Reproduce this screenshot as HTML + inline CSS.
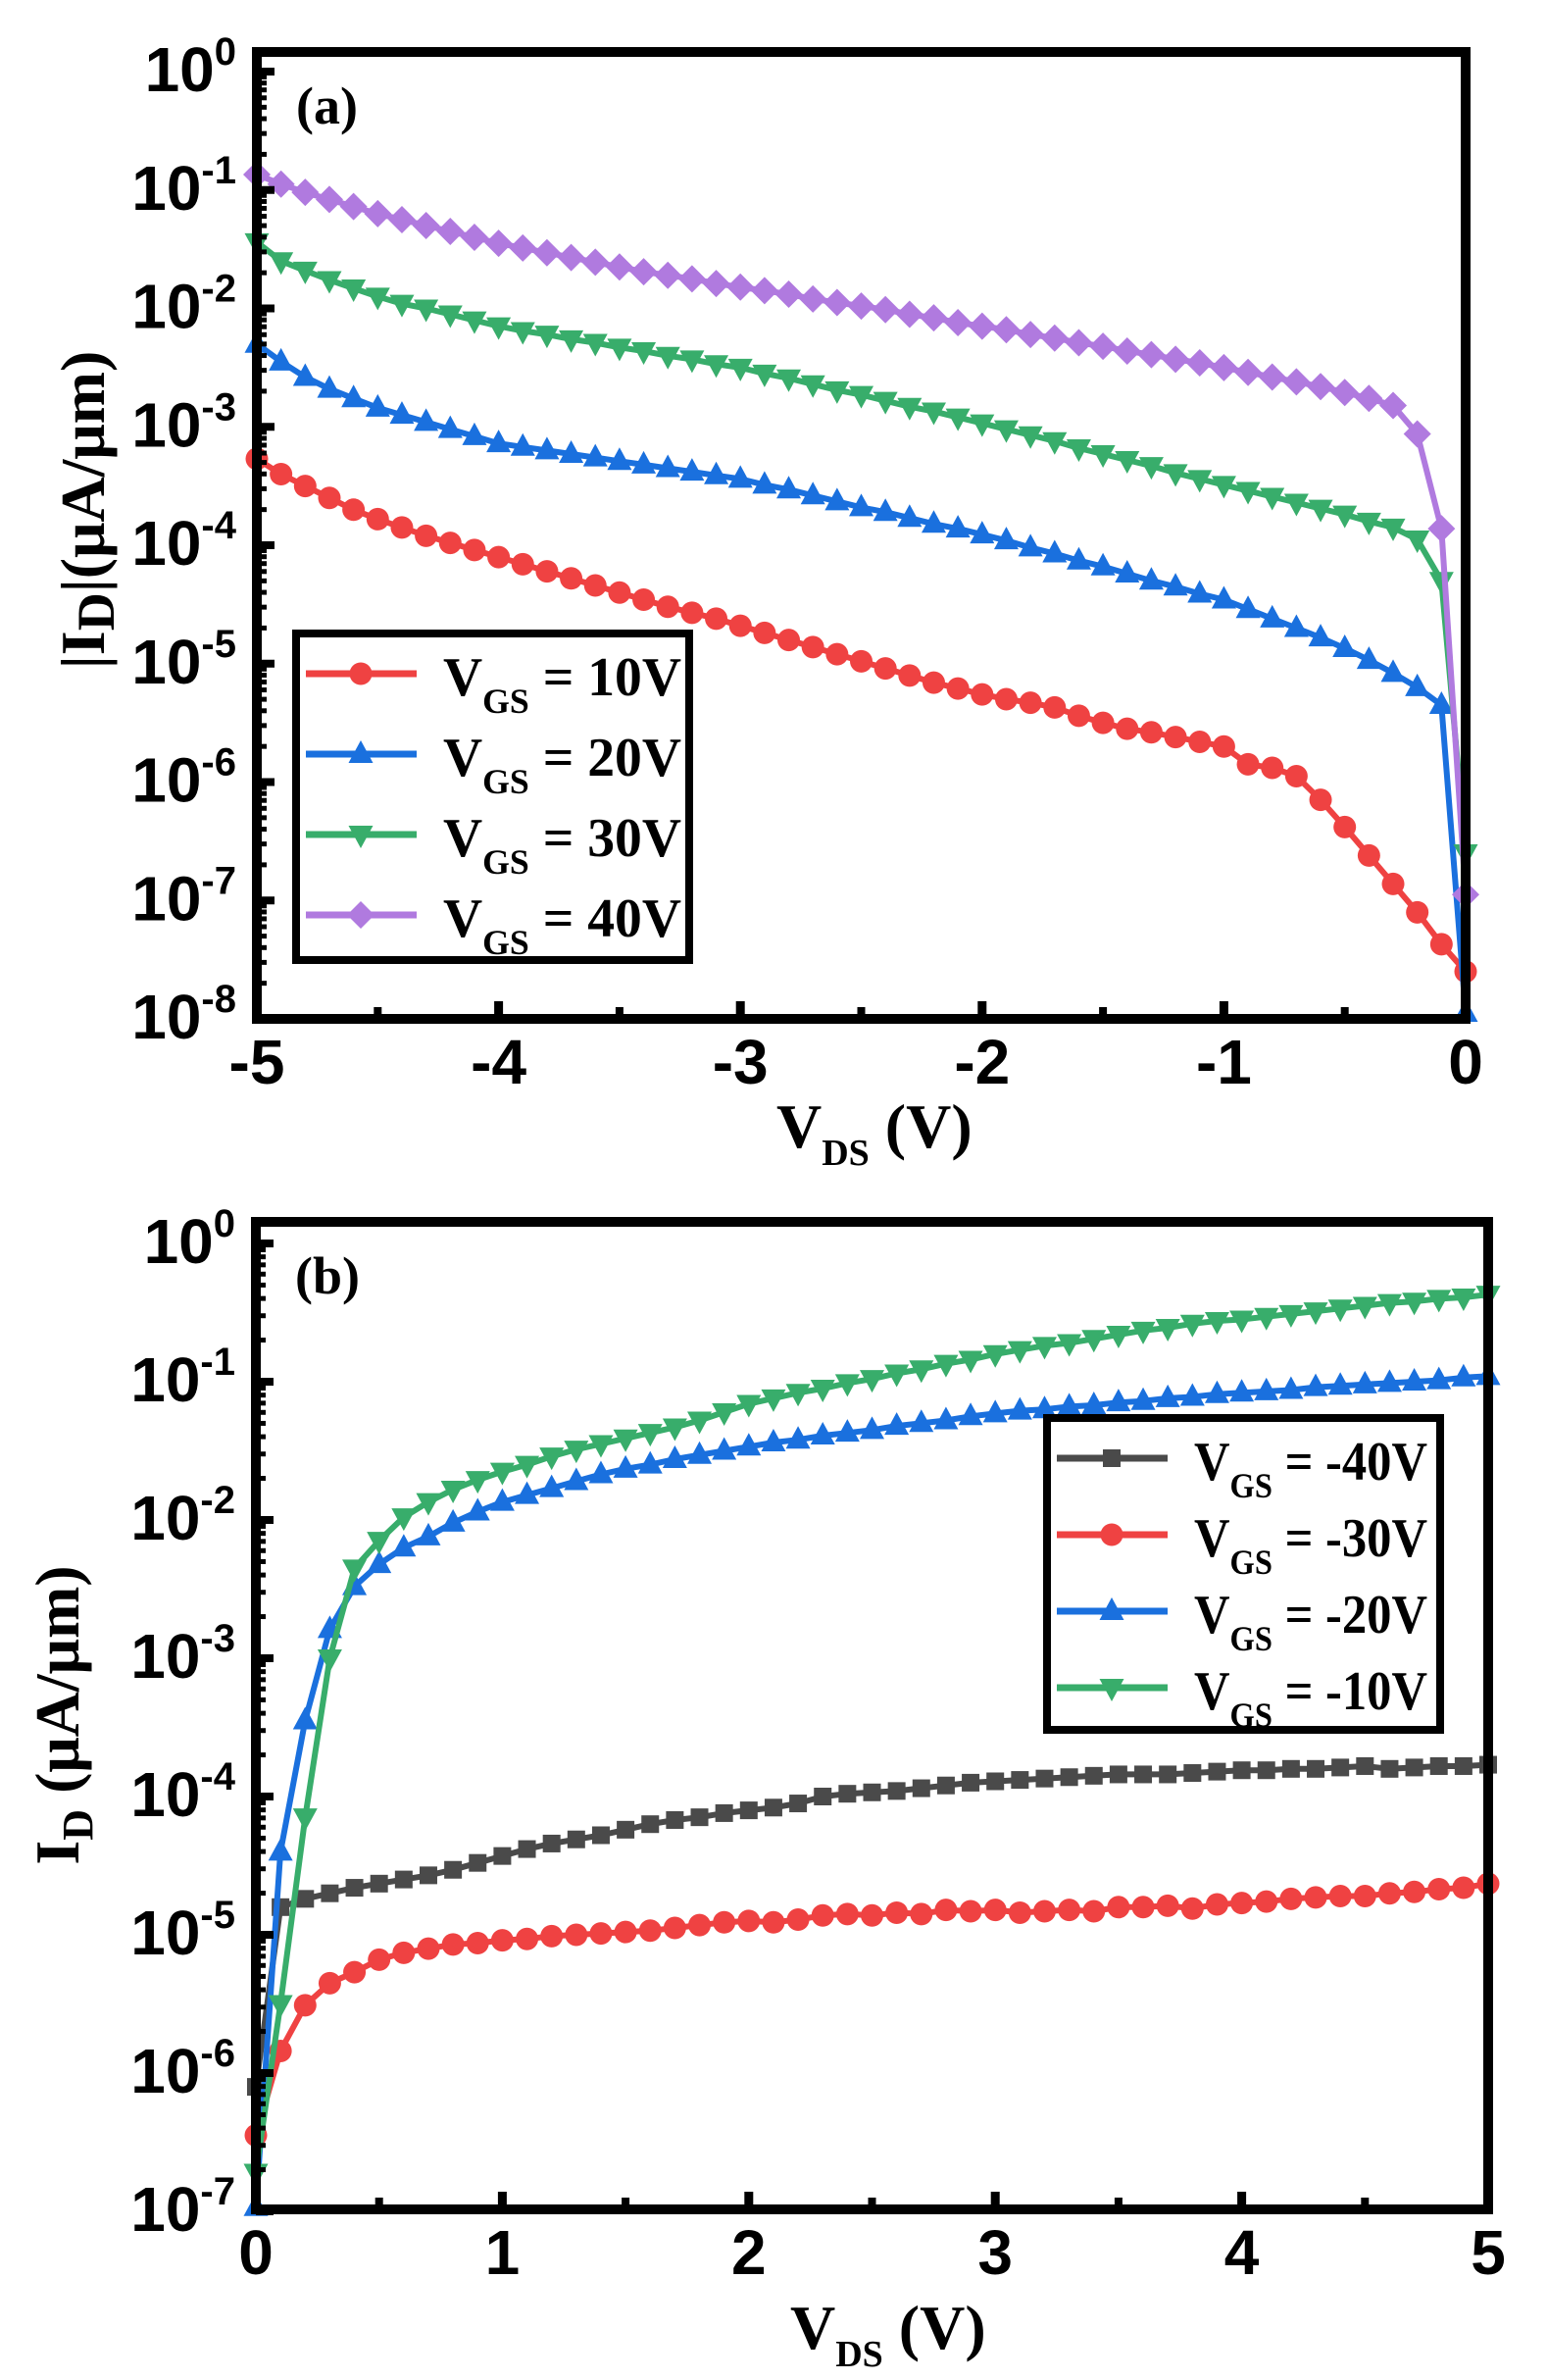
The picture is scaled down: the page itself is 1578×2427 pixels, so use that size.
<!DOCTYPE html>
<html><head><meta charset="utf-8"><style>
html,body{margin:0;padding:0;background:#fff;}
svg{display:block;}
.tick{font-family:"Liberation Sans",sans-serif;font-weight:bold;font-size:64px;fill:#000;}
.ttl{font-family:"Liberation Serif",serif;font-weight:bold;fill:#000;}
</style></head><body>
<svg id="fig" width="1578" height="2427" viewBox="0 0 1578 2427" xmlns="http://www.w3.org/2000/svg">
<rect width="1578" height="2427" fill="#fff"/>
<g id="panelA"></g>
<g id="panelB"></g>
</svg>
<script>
// ---- Panel (a) data: V_DS and log10(|I_D|) ----
const xA = [-5,-4.9,-4.8,-4.7,-4.6,-4.5,-4.4,-4.3,-4.2,-4.1,-4,-3.9,-3.8,-3.7,-3.6,-3.5,-3.4,-3.3,-3.2,-3.1,-3,-2.9,-2.8,-2.7,-2.6,-2.5,-2.4,-2.3,-2.2,-2.1,-2,-1.9,-1.8,-1.7,-1.6,-1.5,-1.4,-1.3,-1.2,-1.1,-1,-0.9,-0.8,-0.7,-0.6,-0.5,-0.4,-0.3,-0.2,-0.1,0];
const logA10 = [-3.27,-3.4,-3.5,-3.6,-3.7,-3.78,-3.85,-3.92,-3.98,-4.04,-4.1,-4.16,-4.22,-4.28,-4.34,-4.4,-4.46,-4.52,-4.57,-4.62,-4.68,-4.74,-4.8,-4.86,-4.92,-4.98,-5.04,-5.1,-5.16,-5.21,-5.26,-5.3,-5.33,-5.37,-5.44,-5.5,-5.55,-5.58,-5.62,-5.66,-5.7,-5.85,-5.88,-5.95,-6.15,-6.38,-6.62,-6.86,-7.1,-7.37,-7.6];
const logA20 = [-2.3,-2.45,-2.58,-2.68,-2.76,-2.84,-2.9,-2.96,-3.02,-3.08,-3.14,-3.17,-3.2,-3.23,-3.26,-3.29,-3.32,-3.35,-3.38,-3.41,-3.44,-3.49,-3.53,-3.58,-3.63,-3.68,-3.72,-3.77,-3.82,-3.86,-3.91,-3.96,-4.02,-4.07,-4.13,-4.18,-4.24,-4.3,-4.35,-4.41,-4.46,-4.54,-4.62,-4.7,-4.78,-4.87,-4.97,-5.08,-5.2,-5.35,-7.95];
const logA30 = [-1.44,-1.6,-1.68,-1.76,-1.83,-1.9,-1.96,-2.0,-2.05,-2.1,-2.15,-2.19,-2.22,-2.26,-2.29,-2.33,-2.36,-2.4,-2.43,-2.47,-2.5,-2.55,-2.59,-2.64,-2.69,-2.73,-2.78,-2.83,-2.87,-2.92,-2.97,-3.02,-3.07,-3.12,-3.18,-3.23,-3.28,-3.33,-3.39,-3.44,-3.49,-3.54,-3.59,-3.64,-3.69,-3.74,-3.8,-3.85,-3.95,-4.3,-6.6];
const logA40 = [-0.87,-0.95,-1.02,-1.08,-1.14,-1.2,-1.25,-1.3,-1.35,-1.4,-1.45,-1.49,-1.53,-1.57,-1.61,-1.65,-1.69,-1.72,-1.75,-1.79,-1.82,-1.85,-1.88,-1.92,-1.95,-1.98,-2.01,-2.05,-2.08,-2.12,-2.15,-2.18,-2.22,-2.25,-2.29,-2.32,-2.36,-2.39,-2.43,-2.46,-2.5,-2.54,-2.58,-2.62,-2.66,-2.71,-2.76,-2.82,-3.06,-3.86,-6.95];
const xTicksA = [-5,-4,-3,-2,-1,0];
const yTicksA = [0,-1,-2,-3,-4,-5,-6,-7,-8];
const legendA = ["10V","20V","30V","40V"];
// ---- Panel (b) data ----
const xB = [0,0.1,0.2,0.3,0.4,0.5,0.6,0.7,0.8,0.9,1,1.1,1.2,1.3,1.4,1.5,1.6,1.7,1.8,1.9,2,2.1,2.2,2.3,2.4,2.5,2.6,2.7,2.8,2.9,3,3.1,3.2,3.3,3.4,3.5,3.6,3.7,3.8,3.9,4,4.1,4.2,4.3,4.4,4.5,4.6,4.7,4.8,4.9,5];
const logBm40 = [-6.1,-4.8,-4.74,-4.7,-4.66,-4.63,-4.6,-4.57,-4.53,-4.48,-4.43,-4.38,-4.34,-4.31,-4.28,-4.24,-4.2,-4.17,-4.15,-4.12,-4.1,-4.08,-4.05,-4.0,-3.98,-3.97,-3.96,-3.94,-3.92,-3.9,-3.89,-3.88,-3.87,-3.86,-3.85,-3.84,-3.84,-3.84,-3.83,-3.82,-3.81,-3.81,-3.8,-3.8,-3.79,-3.78,-3.8,-3.79,-3.78,-3.78,-3.77];
const logBm30 = [-6.45,-5.84,-5.51,-5.35,-5.27,-5.18,-5.13,-5.1,-5.07,-5.06,-5.04,-5.03,-5.01,-5.0,-4.99,-4.98,-4.97,-4.95,-4.93,-4.91,-4.9,-4.91,-4.89,-4.86,-4.85,-4.86,-4.84,-4.85,-4.82,-4.83,-4.82,-4.84,-4.83,-4.82,-4.83,-4.8,-4.8,-4.79,-4.81,-4.78,-4.77,-4.76,-4.74,-4.73,-4.72,-4.72,-4.7,-4.69,-4.67,-4.66,-4.63];
const logBm20 = [-6.97,-4.4,-3.45,-2.79,-2.48,-2.32,-2.2,-2.12,-2.02,-1.94,-1.87,-1.82,-1.77,-1.72,-1.67,-1.63,-1.6,-1.56,-1.53,-1.5,-1.47,-1.44,-1.42,-1.39,-1.37,-1.35,-1.32,-1.3,-1.28,-1.25,-1.23,-1.21,-1.2,-1.18,-1.17,-1.15,-1.14,-1.12,-1.11,-1.09,-1.08,-1.07,-1.06,-1.04,-1.03,-1.02,-1.01,-1.0,-0.99,-0.97,-0.96];
const logBm10 = [-6.72,-5.5,-4.15,-3.0,-2.35,-2.15,-1.98,-1.87,-1.78,-1.71,-1.65,-1.6,-1.54,-1.49,-1.45,-1.41,-1.37,-1.33,-1.28,-1.22,-1.16,-1.12,-1.08,-1.05,-1.01,-0.98,-0.94,-0.91,-0.87,-0.84,-0.8,-0.77,-0.74,-0.72,-0.69,-0.66,-0.63,-0.61,-0.58,-0.56,-0.55,-0.53,-0.51,-0.49,-0.47,-0.45,-0.43,-0.42,-0.4,-0.39,-0.37];
const xTicksB = [0,1,2,3,4,5];
const yTicksB = [0,-1,-2,-3,-4,-5,-6,-7];
const legendB = ["-40V","-30V","-20V","-10V"];

const NS = "http://www.w3.org/2000/svg";
function mk(tag, attrs, parent){const e=document.createElementNS(NS,tag);for(const k in attrs)e.setAttribute(k,attrs[k]);parent.appendChild(e);return e;}

function marker(g, shape, cx, cy, color){
  let e;
  if(shape==="circle"){e=mk("circle",{cx:cx,cy:cy,r:11.5,fill:color},g);}
  else if(shape==="up"){e=mk("polygon",{points:`${cx},${cy-14} ${cx+12.5},${cy+9} ${cx-12.5},${cy+9}`,fill:color},g);}
  else if(shape==="down"){e=mk("polygon",{points:`${cx},${cy+14} ${cx+12.5},${cy-9} ${cx-12.5},${cy-9}`,fill:color},g);}
  else if(shape==="diamond"){e=mk("polygon",{points:`${cx},${cy-14} ${cx+14},${cy} ${cx},${cy+14} ${cx-14},${cy}`,fill:color},g);}
  else {e=mk("rect",{x:cx-9,y:cy-9,width:18,height:18,fill:color},g);}
  
  
}

function drawPanel(cfg){
  const g=document.getElementById(cfg.id);
  const X=v=>cfg.L+(v-cfg.xmin)/(cfg.xmax-cfg.xmin)*(cfg.R-cfg.L);
  const Y=lg=>cfg.y0+(-lg)*cfg.dec;
  cfg.series.forEach(s=>{
    const sg=mk("g",{},g);
    
    
    const pts=s.x.map((v,i)=>X(v).toFixed(1)+","+Y(s.y[i]).toFixed(1)).join(" ");
    const pl=mk("polyline",{points:pts,fill:"none",stroke:s.color,"stroke-width":6,"stroke-linejoin":"round"},sg);
    
    
    s.x.forEach((v,i)=>marker(sg,s.shape,X(v),Y(s.y[i]),s.color));
  });
  const fr=mk("rect",{x:cfg.L,y:cfg.T,width:cfg.R-cfg.L,height:cfg.B-cfg.T,fill:"none",stroke:"#000","stroke-width":10},g);
  
  
  cfg.yTicks.forEach(t=>{
    const y=Y(t);
    const tk=mk("line",{x1:cfg.L,x2:cfg.L+18,y1:y,y2:y,stroke:"#000","stroke-width":8},g);
    
    
    if(t>Math.min(...cfg.yTicks)){
      for(let m=2;m<=9;m++){const ym=Y(t-1+Math.log10(m));
        const mt=mk("line",{x1:cfg.L,x2:cfg.L+10,y1:ym,y2:ym,stroke:"#000","stroke-width":5},g);
        
        }
    }
    const tx=mk("text",{x:cfg.L-21,y:y+20,"text-anchor":"end",class:"tick"},g);
    
    
    const a=mk("tspan",{},tx);a.textContent="10";
    const b=mk("tspan",{dy:-27,"font-size":"40"},tx);b.textContent=(t<0?"-":"")+Math.abs(t);
  });
  cfg.xTicks.forEach((t,i)=>{
    const x=X(t);
    const tk=mk("line",{x1:x,x2:x,y1:cfg.B,y2:cfg.B-18,stroke:"#000","stroke-width":9},g);
    
    
    if(i<cfg.xTicks.length-1){const xm=X(t+0.5);
      const mt=mk("line",{x1:xm,x2:xm,y1:cfg.B,y2:cfg.B-12,stroke:"#000","stroke-width":8},g);
      
      }
    const tx=mk("text",{x:x,y:cfg.B+66,"text-anchor":"middle",class:"tick"},g);
    
    
    tx.textContent=String(t);
  });
  const lg=mk("g",{},g);
  
  
  const bx=mk("rect",{x:cfg.leg.x,y:cfg.leg.y,width:cfg.leg.w,height:cfg.leg.h,fill:"#fff",stroke:"#000","stroke-width":8},lg);
  
  
  cfg.legOrder.forEach((si,k)=>{
    const s=cfg.series[si];
    const ey=cfg.leg.y+41+k*cfg.leg.step;
    const eg=mk("g",{},lg);
    
    
    mk("line",{x1:cfg.leg.x+10,x2:cfg.leg.x+123,y1:ey,y2:ey,stroke:s.color,"stroke-width":7},eg);
    marker(eg,s.shape,cfg.leg.x+66,ey,s.color);
    const tx=mk("text",{x:cfg.leg.x+150,y:ey+22,class:"ttl","font-size":"56",textLength:cfg.leg.tl,lengthAdjust:"spacingAndGlyphs"},eg);
    const a=mk("tspan",{},tx);a.textContent="V";
    const b=mk("tspan",{dy:18,"font-size":"36"},tx);b.textContent="GS";
    const c=mk("tspan",{dy:-18},tx);c.textContent=" = "+cfg.legLabels[k];
  });
  const pl=mk("text",{x:cfg.L+40,y:cfg.T+73,class:"ttl","font-size":"54"},g);
  
  
  pl.textContent=cfg.label;
  const xt=mk("text",{x:cfg.xtX,y:cfg.xtY,class:"ttl","font-size":"64"},g);
  
  
  let a=mk("tspan",{},xt);a.textContent="V";
  let b=mk("tspan",{dy:18,"font-size":"38"},xt);b.textContent="DS";
  let c=mk("tspan",{dy:-18},xt);c.textContent=" (V)";
  const yt=mk("text",{x:0,y:0,class:"ttl","font-size":"64","text-anchor":"middle",transform:`translate(${cfg.ytX},${cfg.ytY}) rotate(-90)`},g);
  
  
  cfg.ytParts.forEach(p=>{const t=mk("tspan",p.a,yt);t.textContent=p.t;});
}

drawPanel({id:"panelA",L:262,R:1495,T:53,B:1039,xmin:-5,xmax:0,y0:73,dec:120.75,
  xTicks:xTicksA,yTicks:yTicksA,label:"(a)",
  series:[
    {name:"series-vgs-10v",x:xA,y:logA10,color:"#ef4242",shape:"circle"},
    {name:"series-vgs-20v",x:xA,y:logA20,color:"#1a70de",shape:"up"},
    {name:"series-vgs-30v",x:xA,y:logA30,color:"#38ad6b",shape:"down"},
    {name:"series-vgs-40v",x:xA,y:logA40,color:"#b07adf",shape:"diamond"}],
  legOrder:[0,1,2,3],legLabels:legendA,
  leg:{x:302,y:646,w:401,h:333,step:82,tl:243},
  xtX:792,xtY:1170,ytX:106,ytY:520,
  ytParts:[{a:{},t:"|I"},{a:{dy:10,"font-size":"54"},t:"D"},{a:{dy:-10},t:"|(μA/μm)"}]});

drawPanel({id:"panelB",L:261,R:1518,T:1246,B:2253,xmin:0,xmax:5,y0:1268,dec:141,
  xTicks:xTicksB,yTicks:yTicksB,label:"(b)",
  series:[
    {name:"series-vgs-m40v",x:xB,y:logBm40,color:"#4a4a4a",shape:"square"},
    {name:"series-vgs-m30v",x:xB,y:logBm30,color:"#ef4242",shape:"circle"},
    {name:"series-vgs-m20v",x:xB,y:logBm20,color:"#1a70de",shape:"up"},
    {name:"series-vgs-m10v",x:xB,y:logBm10,color:"#38ad6b",shape:"down"}],
  legOrder:[0,1,2,3],legLabels:legendB,
  leg:{x:1068,y:1446,w:401,h:318,step:78,tl:238},
  xtX:806,xtY:2395,ytX:80,ytY:1749,
  ytParts:[{a:{},t:"I"},{a:{dy:14,"font-size":"44"},t:"D"},{a:{dy:-14},t:" (μA/μm)"}]});
</script>
</body></html>
